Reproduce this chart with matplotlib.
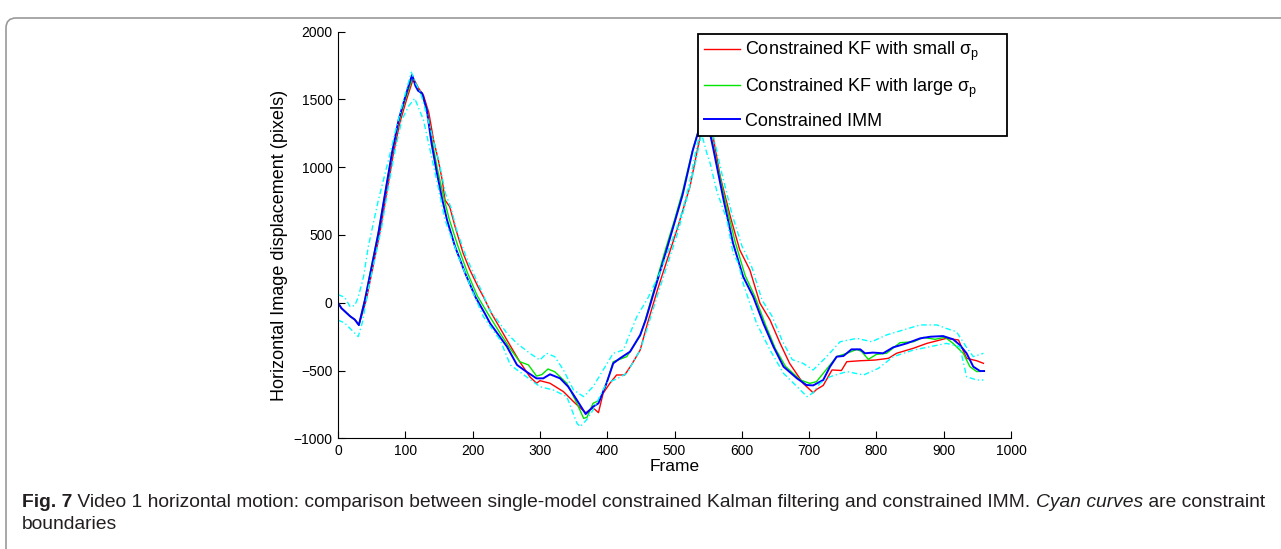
import matplotlib
matplotlib.use("Agg")
import matplotlib.pyplot as plt
from matplotlib.patches import FancyBboxPatch

# data (frame, horizontal displacement in pixels)
imm_frames = [0, 5, 18, 25, 31, 40, 50, 60, 70, 80, 90, 100, 110, 115, 119, 125, 132, 139, 147, 154,
              162, 174, 189, 204, 218, 226, 251, 266, 280, 295, 305, 315, 330, 342, 355, 368, 379, 387,
              399, 409, 419, 434, 449, 457, 472, 487, 500, 512, 527, 537, 545, 551, 558, 573, 587, 602,
              617, 632, 647, 662, 682, 696, 706, 721, 731, 741, 751, 763, 776, 783, 795, 810, 825, 845,
              865, 880, 899, 914, 924, 934, 944, 954, 960]
imm_vals = [0, -40, -100, -125, -165, 20, 265, 512, 807, 1100, 1347, 1520, 1680, 1600, 1563, 1545, 1420,
            1175, 954, 782, 610, 413, 217, 44, -78, -152, -324, -459, -509, -558, -558, -528, -558, -619,
            -718, -821, -767, -742, -594, -447, -410, -361, -238, -130, 120, 370, 590, 795, 1120, 1290,
            1480, 1290, 1126, 757, 438, 192, 44, -152, -324, -472, -558, -607, -610, -570, -472, -398,
            -393, -344, -344, -373, -368, -373, -329, -300, -263, -251, -246, -270, -312, -373, -472,
            -504, -504]

kf_large_frames = [0, 5, 18, 25, 31, 40, 50, 60, 70, 80, 90, 100, 111, 118, 125, 132, 140, 148, 156, 165,
                   178, 192, 207, 222, 241, 256, 270, 283, 295, 303, 312, 322, 340, 355, 365, 370, 379,
                   389, 399, 409, 429, 449, 457, 472, 487, 500, 512, 527, 537, 545, 552, 560, 575, 590,
                   605, 620, 635, 650, 665, 687, 701, 711, 729, 741, 756, 771, 778, 788, 800, 815, 835,
                   855, 870, 887, 902, 914, 929, 939, 949, 960]
kf_large_vals = [0, -40, -100, -125, -165, 25, 275, 520, 810, 1095, 1330, 1500, 1665, 1580, 1530, 1430,
                 1190, 980, 800, 620, 420, 225, 50, -75, -226, -340, -435, -459, -541, -530, -489, -509,
                 -594, -742, -853, -845, -742, -718, -594, -435, -398, -245, -120, 140, 400, 610, 820,
                 1130, 1290, 1470, 1290, 1100, 760, 450, 200, 40, -160, -340, -470, -570, -595, -582,
                 -472, -398, -373, -344, -360, -418, -381, -373, -295, -288, -256, -270, -255, -300,
                 -373, -472, -508, -505]

kf_small_frames = [0, 5, 18, 25, 31, 42, 52, 62, 72, 82, 92, 102, 112, 120, 127, 135, 142, 149, 155, 159,
                   166, 174, 186, 196, 208, 216, 228, 251, 270, 285, 295, 300, 315, 335, 350, 368, 379,
                   387, 394, 404, 414, 426, 436, 449, 460, 475, 490, 505, 523, 535, 541, 548, 555, 560,
                   568, 583, 597, 612, 627, 642, 657, 671, 691, 706, 711, 721, 734, 748, 756, 776, 798,
                   818, 830, 855, 875, 904, 922, 934, 949, 959]
kf_small_vals = [0, -40, -100, -125, -165, 20, 265, 510, 800, 1090, 1330, 1500, 1655, 1580, 1530, 1400,
                 1200, 1052, 900, 757, 708, 560, 364, 241, 118, 44, -78, -275, -435, -546, -594, -575,
                 -594, -656, -730, -812, -775, -811, -668, -594, -533, -533, -459, -349, -150, 100, 330,
                 560, 856, 1150, 1290, 1450, 1290, 1150, 929, 634, 389, 241, -4, -128, -300, -447, -594,
                 -664, -640, -610, -496, -500, -435, -428, -423, -410, -373, -336, -300, -263, -275,
                 -410, -428, -447]

upper_frames = [0, 10, 18, 25, 30, 38, 45, 60, 75, 87, 100, 109, 115, 122, 130, 140, 150, 160, 168, 176,
                188, 200, 212, 226, 240, 251, 266, 285, 300, 310, 322, 335, 350, 365, 379, 394, 409, 424,
                444, 460, 478, 508, 521, 533, 540, 546, 552, 560, 570, 585, 600, 615, 630, 645, 660, 675,
                691, 706, 726, 746, 771, 793, 815, 840, 865, 890, 904, 919, 934, 944, 959]
upper_vals = [60, 40, -30, -20, 40, 192, 413, 757, 1052, 1298, 1540, 1700, 1620, 1560, 1420, 1230, 1040,
              800, 700, 540, 370, 230, 100, -60, -150, -226, -300, -373, -423, -373, -398, -496, -644,
              -693, -619, -496, -373, -349, -103, 30, 217, 610, 856, 1150, 1300, 1520, 1350, 1180, 960,
              660, 420, 260, 20, -100, -280, -420, -447, -496, -398, -288, -263, -288, -238, -201, -164,
              -164, -190, -214, -330, -398, -373]

lower_frames = [0, 10, 20, 30, 36, 45, 55, 65, 75, 85, 95, 105, 114, 127, 139, 149, 159, 179, 199, 216,
                241, 256, 280, 300, 320, 340, 355, 360, 370, 379, 399, 415, 429, 449, 460, 475, 490, 505,
                520, 532, 540, 548, 553, 563, 578, 587, 595, 602, 622, 642, 662, 677, 687, 697, 706, 716,
                731, 756, 781, 803, 825, 855, 880, 904, 924, 934, 949, 959]
lower_vals = [-128, -150, -200, -250, -150, 100, 330, 560, 860, 1130, 1350, 1450, 1507, 1347, 1077, 850,
              610, 339, 94, -103, -275, -459, -546, -619, -644, -693, -889, -914, -860, -791, -594, -560,
              -521, -349, -180, 60, 290, 520, 800, 1050, 1250, 1103, 1028, 820, 610, 364, 291, 143, -152,
              -349, -521, -594, -644, -693, -664, -595, -546, -508, -533, -484, -398, -349, -324, -300,
              -324, -546, -570, -570]

legend_labels = ['Constrained KF with small σ$_\\mathrm{p}$',
                 'Constrained KF with large σ$_\\mathrm{p}$',
                 'Constrained IMM']

plt.rcParams['font.family'] = ['Liberation Sans', 'DejaVu Sans']
plt.rcParams['mathtext.fontset'] = 'custom'
plt.rcParams['mathtext.rm'] = 'Liberation Sans'
plt.rcParams['mathtext.it'] = 'Liberation Sans:italic'

W, H = 1281, 549
fig = plt.figure(figsize=(W / 100, H / 100), dpi=100)
ax = fig.add_axes([338 / W, 1 - 438.3 / H, 673 / W, 406.8 / H])

# main curves
l1, = ax.plot(kf_small_frames, kf_small_vals, color=(1, 0, 0), lw=1.0)
l2, = ax.plot(kf_large_frames, kf_large_vals, color=(0, 0.9, 0), lw=1.0)
l3, = ax.plot(imm_frames, imm_vals, color=(0, 0, 1), lw=1.4)
# constraint boundaries
ax.plot(upper_frames, upper_vals, color=(0, 1, 1), lw=1.0, ls=(0, (4, 2, 1, 2)))
ax.plot(lower_frames, lower_vals, color=(0, 1, 1), lw=1.0, ls=(0, (4, 2, 1, 2)))

ax.set_xlim(0, 1000)
ax.set_ylim(-1000, 2000)
ax.set_xticks(range(0, 1001, 100))
ax.set_yticks(range(-1000, 2001, 500))
ax.spines[['top', 'right']].set_visible(False)
ax.tick_params(direction='in', length=5, labelsize=10, pad=4)
ax.set_xlabel('Frame', fontsize=12.5, labelpad=1)
ax.set_ylabel('Horizontal Image displacement (pixels)', fontsize=13)
ax.yaxis.set_label_coords(-0.074, 0.475)

# legend box spans a fixed region like in the original
leg = ax.legend([l1, l2, l3], legend_labels, loc='upper left', mode='expand',
                bbox_to_anchor=(0.535, 0.75, 0.459, 0.244),
                borderaxespad=0, fancybox=False, framealpha=1, edgecolor='black',
                fontsize=13, handlelength=2.0, handletextpad=0.25, labelspacing=0.72,
                borderpad=0.35)
leg.get_frame().set_linewidth(1.3)

# rounded frame around the whole figure
frame = FancyBboxPatch((6, -60), 1400, H - 18 + 60, boxstyle='round,pad=0,rounding_size=10',
                       transform=None, facecolor='none', edgecolor='#9a9a9a', lw=1.2)
fig.add_artist(frame)

# caption
cap_font = ['Liberation Sans']
parts = [('Fig. 7', 'bold', 'normal'),
         (' Video 1 horizontal motion: comparison between single-model constrained Kalman filtering and constrained IMM. ', 'normal', 'normal'),
         ('Cyan curves', 'normal', 'italic'),
         (' are constraint', 'normal', 'normal')]
fig.canvas.draw()
renderer = fig.canvas.get_renderer()
x = 22 / W
for s, weight, style in parts:
    t = fig.text(x, 1 - 507 / H, s, fontsize=13.9, fontweight=weight, style=style,
                 family=cap_font, color='#231f20', va='baseline')
    x += t.get_window_extent(renderer).width / W
fig.text(22 / W, 1 - 529 / H, 'boundaries', fontsize=13.9, family=cap_font, color='#231f20', va='baseline')

fig.savefig('out.png', dpi=100)
